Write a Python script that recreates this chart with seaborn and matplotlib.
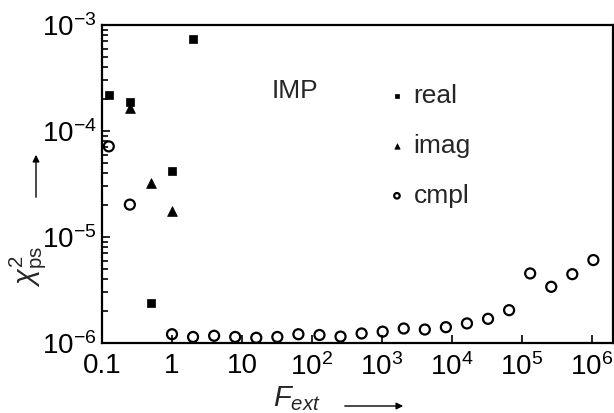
import numpy as np
import pandas as pd
import matplotlib
matplotlib.use("Agg")
import matplotlib.pyplot as plt
from matplotlib.patches import FancyArrowPatch
import seaborn as sns

# External field strengths and chi^2 values for the three fit variants
f_real = [0.125, 0.25, 0.5, 1, 2]
chi_real = [2.2e-4, 1.88e-4, 2.4e-6, 4.2e-5, 7.3e-4]

f_imag = [0.25, 0.5, 1]
chi_imag = [1.66e-4, 3.24e-5, 1.75e-5]

f_cmpl = [0.125, 0.25, 1, 2, 4, 8, 16, 32, 64, 128, 256, 512, 1024, 2048,
          4096, 8192, 16384, 32768, 65536, 131072, 262144, 524288, 1048576]
chi_cmpl = [7.16e-5, 2.02e-5, 1.21e-6, 1.14e-6, 1.17e-6, 1.14e-6, 1.12e-6,
            1.14e-6, 1.21e-6, 1.19e-6, 1.15e-6, 1.23e-6, 1.28e-6, 1.37e-6,
            1.34e-6, 1.41e-6, 1.53e-6, 1.69e-6, 2.04e-6, 4.53e-6, 3.39e-6,
            4.46e-6, 6.06e-6]

x_ticks = [0.1, 1, 10, 1e2, 1e3, 1e4, 1e5, 1e6]
x_ticklabels = ["0.1", "1", "10", "$10^2$", "$10^3$", "$10^4$", "$10^5$", "$10^6$"]
y_ticks = [1e-6, 1e-5, 1e-4, 1e-3]
y_ticklabels = ["$10^{-6}$", "$10^{-5}$", "$10^{-4}$", "$10^{-3}$"]

sns.set_style("ticks")
plt.rcParams["font.family"] = ["Liberation Sans", "DejaVu Sans"]
plt.rcParams["mathtext.fontset"] = "custom"
plt.rcParams["mathtext.rm"] = "Liberation Sans"
plt.rcParams["mathtext.it"] = "Liberation Sans:italic"
plt.rcParams["mathtext.bf"] = "Liberation Sans:bold"

W, H = 614, 413
fig = plt.figure(figsize=(W / 100, H / 100), dpi=100)
ax = fig.add_axes([102 / W, 1 - 343 / H, 511 / W, 318 / H])

df_real = pd.DataFrame({"F": f_real, "chi": chi_real})
df_imag = pd.DataFrame({"F": f_imag, "chi": chi_imag})
df_cmpl = pd.DataFrame({"F": f_cmpl, "chi": chi_cmpl})

sns.scatterplot(data=df_real, x="F", y="chi", ax=ax, marker="s", s=38,
                color="black", edgecolor="black", linewidth=0.5, label="real")
sns.scatterplot(data=df_imag, x="F", y="chi", ax=ax, marker="^", s=50,
                color="black", edgecolor="black", linewidth=0.5, label="imag")
sns.scatterplot(data=df_cmpl, x="F", y="chi", ax=ax, marker="o", s=52,
                facecolor="none", edgecolor="black", linewidth=1.6, label="cmpl")

ax.set_xscale("log")
ax.set_yscale("log")
ax.set_xlim(0.1, 2e6)
ax.set_ylim(1e-6, 1e-3)
ax.set_xticks(x_ticks)
ax.set_xticklabels(x_ticklabels)
ax.set_yticks(y_ticks)
ax.set_yticklabels(y_ticklabels)
ax.set_xlabel("")
ax.set_ylabel("")

for sp in ax.spines.values():
    sp.set_linewidth(1.6)
    sp.set_color("black")
ax.tick_params(which="both", direction="in", top=False, right=False,
               colors="black", labelsize=20, width=1.2)
ax.tick_params(which="major", length=6)
ax.tick_params(axis="x", which="major", pad=7)
ax.tick_params(axis="y", which="major", pad=4)
ax.tick_params(which="minor", length=4)
ax.grid(False)

fig.text(272 / W, 1 - 91 / H, "IMP", fontsize=19, ha="left", va="center")

leg = ax.legend(loc="upper left", bbox_to_anchor=(391 / W, 1 - 84 / H),
                bbox_transform=fig.transFigure, frameon=False,
                fontsize=19, markerscale=0.55, handlelength=0.45,
                handletextpad=0.4, labelspacing=0.98, borderpad=0,
                borderaxespad=0)

# Axis titles with direction arrows
fig.text(28 / W, 1 - 267 / H, r"$\chi^2_{\mathrm{ps}}$", rotation=90,
         fontsize=21, ha="center", va="center")
fig.add_artist(FancyArrowPatch(
    (36 / W, 1 - 200 / H), (36 / W, 1 - 152 / H), transform=fig.transFigure,
    arrowstyle="-|>", mutation_scale=10, color="black", linewidth=1.0))
fig.text(273 / W, 1 - 399 / H, r"$F_{ext}$", fontsize=21, ha="left",
         va="center")
fig.add_artist(FancyArrowPatch(
    (342 / W, 1 - 406 / H), (406 / W, 1 - 406 / H), transform=fig.transFigure,
    arrowstyle="-|>", mutation_scale=10, color="black", linewidth=1.0))

fig.savefig("out.png", dpi=100)
